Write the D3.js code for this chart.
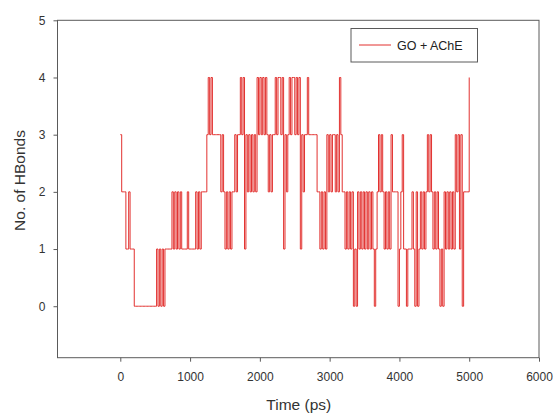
<!DOCTYPE html>
<html>
<head>
<meta charset="utf-8">
<script src="https://cdn.jsdelivr.net/npm/d3@7/dist/d3.min.js"></script>
<style>
  html, body { margin: 0; padding: 0; background: #fff; }
  svg { display: block; font-family: Arial, "Liberation Sans", sans-serif; }
</style>
</head>
<body>
<svg id="chart" width="554" height="415"></svg>
<script>
// ---- data ----
const seriesName = "GO + AChE";
const timeStepPs = 20;          // sampling interval of the series
// H-bond counts, one value every 20 ps from 0 to 5000 ps
const hbonds = [
  3,2,2,2,1,1,2,1,1,1,
  0,0,0,0,0,0,0,0,0,0,
  0,0,0,0,0,0,1,0,1,0,
  1,0,1,1,1,1,1,2,1,2,
  1,2,1,2,1,1,1,1,2,1,
  1,1,1,1,2,1,2,1,2,2,
  2,2,3,4,3,4,3,3,3,3,
  3,3,2,3,2,1,2,1,2,1,
  2,2,3,2,3,3,4,3,4,1,
  3,2,3,2,3,2,3,2,4,3,
  4,3,4,3,4,3,2,3,2,3,
  3,4,3,4,4,3,4,1,3,2,
  3,4,3,4,4,3,4,3,4,1,
  3,2,3,3,4,3,3,3,3,3,
  3,2,2,1,2,1,2,1,3,2,
  3,2,3,3,2,3,2,4,3,2,
  2,1,2,1,2,1,2,0,1,0,
  2,1,2,1,2,1,2,1,2,1,
  2,1,0,1,2,3,2,3,2,1,
  2,1,2,1,3,2,2,2,2,0,
  1,2,3,1,1,0,1,1,1,2,
  1,0,2,0,1,2,1,2,1,2,
  3,2,3,2,1,2,1,2,1,0,
  1,0,2,1,2,1,2,1,2,1,
  3,2,3,1,3,0,2,2,2,2,
  4
];
const xTicks = [0, 1000, 2000, 3000, 4000, 5000, 6000];
const yTicks = [0, 1, 2, 3, 4, 5];
const xDomain = [-900, 6000];
const yDomain = [-0.9, 5];
const xTitle = "Time (ps)";
const yTitle = "No. of HBonds";

// ---- layout ----
const svg = d3.select("#chart");
const plotLeft = 57.5, plotRight = 539, plotTop = 20.3, plotBottom = 357.7;
const frameColor = "#5a5a5a", textColor = "#333";

const x = d3.scaleLinear().domain(xDomain).range([plotLeft, plotRight]);
const y = d3.scaleLinear().domain(yDomain).range([plotBottom, plotTop]);

const points = hbonds.map((v, i) => ({ t: i * timeStepPs, v }));

// series line
svg.append("path")
  .datum(points)
  .attr("fill", "none")
  .attr("stroke", "#e2312f")
  .attr("stroke-width", 1)
  .attr("d", d3.line().x(d => x(d.t)).y(d => y(d.v)).curve(d3.curveStepAfter));

// frame
svg.append("rect")
  .attr("x", plotLeft).attr("y", plotTop)
  .attr("width", plotRight - plotLeft).attr("height", plotBottom - plotTop)
  .attr("fill", "none").attr("stroke", frameColor).attr("stroke-width", 1);

// axes
const xAxis = svg.append("g")
  .attr("transform", `translate(0,${plotBottom})`)
  .call(d3.axisBottom(x).tickValues(xTicks).tickSize(4).tickPadding(11).tickFormat(d3.format("d")));
const yAxis = svg.append("g")
  .attr("transform", `translate(${plotLeft},0)`)
  .call(d3.axisLeft(y).tickValues(yTicks).tickSize(4).tickPadding(8).tickFormat(d3.format("d")));
[xAxis, yAxis].forEach(g => {
  g.select(".domain").remove();
  g.selectAll(".tick line").attr("stroke", frameColor);
  g.selectAll(".tick text").attr("fill", textColor)
    .style("font-size", "12px").style("font-family", "Arial, 'Liberation Sans', sans-serif");
});

// axis titles
svg.append("text")
  .attr("x", (x(0) + x(5000)) / 2 + 4).attr("y", 410)
  .attr("text-anchor", "middle").attr("fill", textColor)
  .style("font-size", "15.5px")
  .text(xTitle);
svg.append("text")
  .attr("transform", `translate(25,${180.5}) rotate(-90)`)
  .attr("text-anchor", "middle").attr("fill", textColor)
  .style("font-size", "15.5px")
  .text(yTitle);

// legend
const lg = svg.append("g");
lg.append("rect").attr("x", 351).attr("y", 28.5).attr("width", 126.5).attr("height", 33.5)
  .attr("fill", "#fff").attr("stroke", frameColor).attr("stroke-width", 1);
lg.append("line").attr("x1", 359).attr("x2", 391).attr("y1", 45).attr("y2", 45)
  .attr("stroke", "#e2312f").attr("stroke-width", 1);
lg.append("text").attr("x", 397).attr("y", 49.5).attr("fill", "#222")
  .style("font-size", "12.5px").text(seriesName);
</script>
</body>
</html>
